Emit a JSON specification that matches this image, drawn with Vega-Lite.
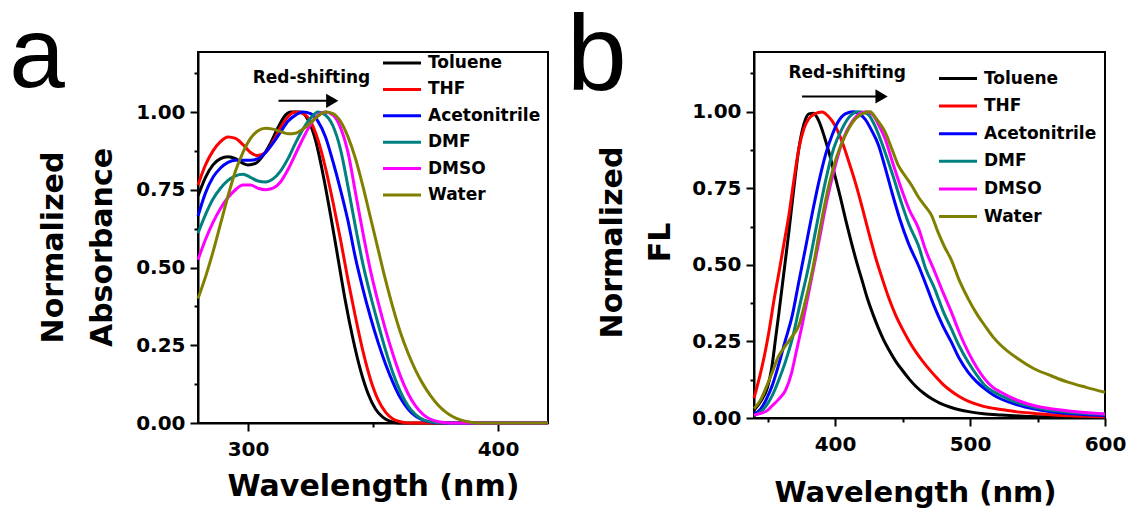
{
"$schema": "https://vega.github.io/schema/vega-lite/v6.json",
"background": "white",
"padding": {"left": 8, "top": 2, "right": 0, "bottom": 0},
"spacing": 10,
"config": {
 "font": "DejaVu Sans",
 "view": {"stroke": "black", "strokeWidth": 2},
 "axis": {"grid": false, "domainColor": "black", "domainWidth": 2, "tickColor": "black", "tickWidth": 2,
  "labelFont": "DejaVu Sans", "labelFontWeight": "bold", "labelFontSize": 20, "labelColor": "black", "labelFlush": false,
  "titleFont": "DejaVu Sans", "titleFontWeight": "bold", "titleFontSize": 30, "titleColor": "black"},
 "legend": {"orient": "none", "title": null, "symbolType": "M-2,0H2", "symbolSize": 361, "symbolStrokeWidth": 3,
  "labelFont": "DejaVu Sans", "labelFontWeight": "bold", "labelFontSize": 17, "labelColor": "black", "labelOffset": 15, "padding": 0}
},
"datasets": {
"abs": [
{"solvent":"Toluene","wl":280,"value":0.73},{"solvent":"Toluene","wl":283,"value":0.79},{"solvent":"Toluene","wl":286,"value":0.83},{"solvent":"Toluene","wl":289,"value":0.85},{"solvent":"Toluene","wl":292,"value":0.856},{"solvent":"Toluene","wl":295,"value":0.85},{"solvent":"Toluene","wl":298,"value":0.835},{"solvent":"Toluene","wl":300,"value":0.83},{"solvent":"Toluene","wl":303,"value":0.835},{"solvent":"Toluene","wl":306,"value":0.86},{"solvent":"Toluene","wl":309,"value":0.9},{"solvent":"Toluene","wl":312,"value":0.95},{"solvent":"Toluene","wl":315,"value":0.99},{"solvent":"Toluene","wl":317,"value":1.0},{"solvent":"Toluene","wl":321,"value":1.0},{"solvent":"Toluene","wl":324,"value":0.975},{"solvent":"Toluene","wl":327,"value":0.91},{"solvent":"Toluene","wl":330,"value":0.8},{"solvent":"Toluene","wl":333,"value":0.67},{"solvent":"Toluene","wl":336,"value":0.53},{"solvent":"Toluene","wl":339,"value":0.39},{"solvent":"Toluene","wl":342,"value":0.27},{"solvent":"Toluene","wl":345,"value":0.17},{"solvent":"Toluene","wl":348,"value":0.095},{"solvent":"Toluene","wl":351,"value":0.045},{"solvent":"Toluene","wl":354,"value":0.018},{"solvent":"Toluene","wl":357,"value":0.005},{"solvent":"Toluene","wl":360,"value":0},{"solvent":"Toluene","wl":420,"value":0},
{"solvent":"THF","wl":280,"value":0.765},{"solvent":"THF","wl":283,"value":0.83},{"solvent":"THF","wl":286,"value":0.875},{"solvent":"THF","wl":289,"value":0.905},{"solvent":"THF","wl":292,"value":0.92},{"solvent":"THF","wl":295,"value":0.915},{"solvent":"THF","wl":298,"value":0.895},{"solvent":"THF","wl":301,"value":0.87},{"solvent":"THF","wl":304,"value":0.86},{"solvent":"THF","wl":307,"value":0.87},{"solvent":"THF","wl":310,"value":0.905},{"solvent":"THF","wl":313,"value":0.95},{"solvent":"THF","wl":316,"value":0.985},{"solvent":"THF","wl":319,"value":1.0},{"solvent":"THF","wl":322,"value":0.995},{"solvent":"THF","wl":325,"value":0.97},{"solvent":"THF","wl":328,"value":0.91},{"solvent":"THF","wl":331,"value":0.82},{"solvent":"THF","wl":334,"value":0.71},{"solvent":"THF","wl":337,"value":0.59},{"solvent":"THF","wl":340,"value":0.46},{"solvent":"THF","wl":343,"value":0.34},{"solvent":"THF","wl":346,"value":0.23},{"solvent":"THF","wl":349,"value":0.14},{"solvent":"THF","wl":352,"value":0.075},{"solvent":"THF","wl":355,"value":0.035},{"solvent":"THF","wl":358,"value":0.013},{"solvent":"THF","wl":361,"value":0.004},{"solvent":"THF","wl":364,"value":0},{"solvent":"THF","wl":420,"value":0},
{"solvent":"Acetonitrile","wl":280,"value":0.665},{"solvent":"Acetonitrile","wl":283,"value":0.74},{"solvent":"Acetonitrile","wl":286,"value":0.79},{"solvent":"Acetonitrile","wl":289,"value":0.82},{"solvent":"Acetonitrile","wl":292,"value":0.838},{"solvent":"Acetonitrile","wl":295,"value":0.845},{"solvent":"Acetonitrile","wl":298,"value":0.845},{"solvent":"Acetonitrile","wl":301,"value":0.845},{"solvent":"Acetonitrile","wl":304,"value":0.85},{"solvent":"Acetonitrile","wl":307,"value":0.87},{"solvent":"Acetonitrile","wl":310,"value":0.9},{"solvent":"Acetonitrile","wl":313,"value":0.935},{"solvent":"Acetonitrile","wl":316,"value":0.97},{"solvent":"Acetonitrile","wl":319,"value":0.99},{"solvent":"Acetonitrile","wl":322,"value":1.0},{"solvent":"Acetonitrile","wl":325,"value":0.995},{"solvent":"Acetonitrile","wl":328,"value":0.97},{"solvent":"Acetonitrile","wl":331,"value":0.92},{"solvent":"Acetonitrile","wl":334,"value":0.84},{"solvent":"Acetonitrile","wl":337,"value":0.75},{"solvent":"Acetonitrile","wl":340,"value":0.65},{"solvent":"Acetonitrile","wl":343,"value":0.53},{"solvent":"Acetonitrile","wl":346,"value":0.43},{"solvent":"Acetonitrile","wl":349,"value":0.34},{"solvent":"Acetonitrile","wl":352,"value":0.26},{"solvent":"Acetonitrile","wl":355,"value":0.19},{"solvent":"Acetonitrile","wl":358,"value":0.13},{"solvent":"Acetonitrile","wl":361,"value":0.08},{"solvent":"Acetonitrile","wl":364,"value":0.045},{"solvent":"Acetonitrile","wl":367,"value":0.022},{"solvent":"Acetonitrile","wl":370,"value":0.009},{"solvent":"Acetonitrile","wl":374,"value":0.002},{"solvent":"Acetonitrile","wl":378,"value":0},{"solvent":"Acetonitrile","wl":420,"value":0},
{"solvent":"DMF","wl":280,"value":0.61},{"solvent":"DMF","wl":283,"value":0.67},{"solvent":"DMF","wl":286,"value":0.72},{"solvent":"DMF","wl":289,"value":0.755},{"solvent":"DMF","wl":292,"value":0.78},{"solvent":"DMF","wl":295,"value":0.795},{"solvent":"DMF","wl":298,"value":0.8},{"solvent":"DMF","wl":301,"value":0.79},{"solvent":"DMF","wl":304,"value":0.778},{"solvent":"DMF","wl":307,"value":0.775},{"solvent":"DMF","wl":310,"value":0.785},{"solvent":"DMF","wl":313,"value":0.81},{"solvent":"DMF","wl":316,"value":0.85},{"solvent":"DMF","wl":319,"value":0.9},{"solvent":"DMF","wl":322,"value":0.945},{"solvent":"DMF","wl":325,"value":0.98},{"solvent":"DMF","wl":328,"value":1.0},{"solvent":"DMF","wl":331,"value":0.99},{"solvent":"DMF","wl":334,"value":0.955},{"solvent":"DMF","wl":337,"value":0.88},{"solvent":"DMF","wl":340,"value":0.76},{"solvent":"DMF","wl":343,"value":0.63},{"solvent":"DMF","wl":346,"value":0.51},{"solvent":"DMF","wl":349,"value":0.41},{"solvent":"DMF","wl":352,"value":0.32},{"solvent":"DMF","wl":355,"value":0.235},{"solvent":"DMF","wl":358,"value":0.16},{"solvent":"DMF","wl":361,"value":0.1},{"solvent":"DMF","wl":364,"value":0.055},{"solvent":"DMF","wl":367,"value":0.027},{"solvent":"DMF","wl":370,"value":0.011},{"solvent":"DMF","wl":374,"value":0.003},{"solvent":"DMF","wl":378,"value":0},{"solvent":"DMF","wl":420,"value":0},
{"solvent":"DMSO","wl":280,"value":0.525},{"solvent":"DMSO","wl":283,"value":0.59},{"solvent":"DMSO","wl":286,"value":0.645},{"solvent":"DMSO","wl":289,"value":0.69},{"solvent":"DMSO","wl":292,"value":0.725},{"solvent":"DMSO","wl":295,"value":0.75},{"solvent":"DMSO","wl":298,"value":0.765},{"solvent":"DMSO","wl":301,"value":0.765},{"solvent":"DMSO","wl":304,"value":0.755},{"solvent":"DMSO","wl":307,"value":0.75},{"solvent":"DMSO","wl":310,"value":0.755},{"solvent":"DMSO","wl":313,"value":0.775},{"solvent":"DMSO","wl":316,"value":0.815},{"solvent":"DMSO","wl":319,"value":0.865},{"solvent":"DMSO","wl":322,"value":0.915},{"solvent":"DMSO","wl":325,"value":0.96},{"solvent":"DMSO","wl":328,"value":0.99},{"solvent":"DMSO","wl":331,"value":1.0},{"solvent":"DMSO","wl":334,"value":0.99},{"solvent":"DMSO","wl":337,"value":0.95},{"solvent":"DMSO","wl":340,"value":0.87},{"solvent":"DMSO","wl":343,"value":0.74},{"solvent":"DMSO","wl":346,"value":0.61},{"solvent":"DMSO","wl":349,"value":0.49},{"solvent":"DMSO","wl":352,"value":0.39},{"solvent":"DMSO","wl":355,"value":0.3},{"solvent":"DMSO","wl":358,"value":0.22},{"solvent":"DMSO","wl":361,"value":0.15},{"solvent":"DMSO","wl":364,"value":0.095},{"solvent":"DMSO","wl":367,"value":0.055},{"solvent":"DMSO","wl":370,"value":0.028},{"solvent":"DMSO","wl":373,"value":0.012},{"solvent":"DMSO","wl":377,"value":0.003},{"solvent":"DMSO","wl":381,"value":0},{"solvent":"DMSO","wl":420,"value":0},
{"solvent":"Water","wl":280,"value":0.4},{"solvent":"Water","wl":283,"value":0.47},{"solvent":"Water","wl":286,"value":0.55},{"solvent":"Water","wl":289,"value":0.64},{"solvent":"Water","wl":292,"value":0.73},{"solvent":"Water","wl":295,"value":0.81},{"solvent":"Water","wl":298,"value":0.87},{"solvent":"Water","wl":301,"value":0.915},{"solvent":"Water","wl":304,"value":0.94},{"solvent":"Water","wl":307,"value":0.948},{"solvent":"Water","wl":310,"value":0.945},{"solvent":"Water","wl":313,"value":0.937},{"solvent":"Water","wl":316,"value":0.93},{"solvent":"Water","wl":319,"value":0.932},{"solvent":"Water","wl":322,"value":0.945},{"solvent":"Water","wl":325,"value":0.965},{"solvent":"Water","wl":328,"value":0.987},{"solvent":"Water","wl":331,"value":1.0},{"solvent":"Water","wl":334,"value":0.995},{"solvent":"Water","wl":337,"value":0.97},{"solvent":"Water","wl":340,"value":0.92},{"solvent":"Water","wl":343,"value":0.85},{"solvent":"Water","wl":346,"value":0.76},{"solvent":"Water","wl":349,"value":0.66},{"solvent":"Water","wl":352,"value":0.56},{"solvent":"Water","wl":355,"value":0.46},{"solvent":"Water","wl":358,"value":0.37},{"solvent":"Water","wl":361,"value":0.29},{"solvent":"Water","wl":364,"value":0.225},{"solvent":"Water","wl":367,"value":0.17},{"solvent":"Water","wl":370,"value":0.125},{"solvent":"Water","wl":373,"value":0.088},{"solvent":"Water","wl":376,"value":0.058},{"solvent":"Water","wl":379,"value":0.036},{"solvent":"Water","wl":382,"value":0.02},{"solvent":"Water","wl":385,"value":0.01},{"solvent":"Water","wl":388,"value":0.004},{"solvent":"Water","wl":392,"value":0},{"solvent":"Water","wl":420,"value":0}
],
"fl": [
{"solvent":"Toluene","wl":340,"value":0.025},{"solvent":"Toluene","wl":345,"value":0.055},{"solvent":"Toluene","wl":350,"value":0.1},{"solvent":"Toluene","wl":353,"value":0.16},{"solvent":"Toluene","wl":356,"value":0.26},{"solvent":"Toluene","wl":358.5,"value":0.345},{"solvent":"Toluene","wl":362,"value":0.47},{"solvent":"Toluene","wl":365.8,"value":0.607},{"solvent":"Toluene","wl":369.5,"value":0.75},{"solvent":"Toluene","wl":373.2,"value":0.879},{"solvent":"Toluene","wl":377,"value":0.96},{"solvent":"Toluene","wl":380.6,"value":0.993},{"solvent":"Toluene","wl":384,"value":0.995},{"solvent":"Toluene","wl":388,"value":0.97},{"solvent":"Toluene","wl":392,"value":0.92},{"solvent":"Toluene","wl":396,"value":0.86},{"solvent":"Toluene","wl":400,"value":0.79},{"solvent":"Toluene","wl":404,"value":0.72},{"solvent":"Toluene","wl":408,"value":0.645},{"solvent":"Toluene","wl":412,"value":0.575},{"solvent":"Toluene","wl":416,"value":0.51},{"solvent":"Toluene","wl":420,"value":0.45},{"solvent":"Toluene","wl":424,"value":0.39},{"solvent":"Toluene","wl":428,"value":0.34},{"solvent":"Toluene","wl":432,"value":0.295},{"solvent":"Toluene","wl":436,"value":0.255},{"solvent":"Toluene","wl":440,"value":0.222},{"solvent":"Toluene","wl":445,"value":0.185},{"solvent":"Toluene","wl":450,"value":0.155},{"solvent":"Toluene","wl":455,"value":0.127},{"solvent":"Toluene","wl":460,"value":0.103},{"solvent":"Toluene","wl":466,"value":0.08},{"solvent":"Toluene","wl":472,"value":0.062},{"solvent":"Toluene","wl":478,"value":0.048},{"solvent":"Toluene","wl":485,"value":0.036},{"solvent":"Toluene","wl":492,"value":0.027},{"solvent":"Toluene","wl":500,"value":0.02},{"solvent":"Toluene","wl":510,"value":0.014},{"solvent":"Toluene","wl":523,"value":0.01},{"solvent":"Toluene","wl":540,"value":0.006},{"solvent":"Toluene","wl":560,"value":0.004},{"solvent":"Toluene","wl":580,"value":0.003},{"solvent":"Toluene","wl":600,"value":0.002},
{"solvent":"THF","wl":340,"value":0.065},{"solvent":"THF","wl":345,"value":0.15},{"solvent":"THF","wl":348,"value":0.21},{"solvent":"THF","wl":351,"value":0.28},{"solvent":"THF","wl":355,"value":0.39},{"solvent":"THF","wl":358.5,"value":0.476},{"solvent":"THF","wl":362,"value":0.565},{"solvent":"THF","wl":365.8,"value":0.661},{"solvent":"THF","wl":369.5,"value":0.775},{"solvent":"THF","wl":373.2,"value":0.879},{"solvent":"THF","wl":377,"value":0.945},{"solvent":"THF","wl":380.6,"value":0.977},{"solvent":"THF","wl":385,"value":0.993},{"solvent":"THF","wl":390.4,"value":0.999},{"solvent":"THF","wl":395,"value":0.985},{"solvent":"THF","wl":400,"value":0.955},{"solvent":"THF","wl":405,"value":0.905},{"solvent":"THF","wl":410,"value":0.84},{"solvent":"THF","wl":415,"value":0.77},{"solvent":"THF","wl":420,"value":0.69},{"solvent":"THF","wl":425,"value":0.605},{"solvent":"THF","wl":430,"value":0.525},{"solvent":"THF","wl":435,"value":0.455},{"solvent":"THF","wl":440,"value":0.39},{"solvent":"THF","wl":445,"value":0.335},{"solvent":"THF","wl":450,"value":0.29},{"solvent":"THF","wl":455,"value":0.25},{"solvent":"THF","wl":460,"value":0.215},{"solvent":"THF","wl":465,"value":0.185},{"solvent":"THF","wl":470,"value":0.158},{"solvent":"THF","wl":475,"value":0.133},{"solvent":"THF","wl":480,"value":0.11},{"solvent":"THF","wl":486,"value":0.088},{"solvent":"THF","wl":492,"value":0.07},{"solvent":"THF","wl":499,"value":0.054},{"solvent":"THF","wl":510,"value":0.038},{"solvent":"THF","wl":523,"value":0.028},{"solvent":"THF","wl":535,"value":0.02},{"solvent":"THF","wl":548,"value":0.015},{"solvent":"THF","wl":560,"value":0.011},{"solvent":"THF","wl":575,"value":0.007},{"solvent":"THF","wl":590,"value":0.005},{"solvent":"THF","wl":600,"value":0.004},
{"solvent":"Acetonitrile","wl":340,"value":0.013},{"solvent":"Acetonitrile","wl":345,"value":0.03},{"solvent":"Acetonitrile","wl":349,"value":0.06},{"solvent":"Acetonitrile","wl":353.5,"value":0.106},{"solvent":"Acetonitrile","wl":358,"value":0.17},{"solvent":"Acetonitrile","wl":363,"value":0.25},{"solvent":"Acetonitrile","wl":368.3,"value":0.334},{"solvent":"Acetonitrile","wl":373,"value":0.44},{"solvent":"Acetonitrile","wl":378,"value":0.552},{"solvent":"Acetonitrile","wl":383,"value":0.665},{"solvent":"Acetonitrile","wl":388,"value":0.77},{"solvent":"Acetonitrile","wl":393,"value":0.86},{"solvent":"Acetonitrile","wl":397.8,"value":0.923},{"solvent":"Acetonitrile","wl":402,"value":0.965},{"solvent":"Acetonitrile","wl":407.6,"value":0.993},{"solvent":"Acetonitrile","wl":413.8,"value":1.0},{"solvent":"Acetonitrile","wl":418,"value":0.993},{"solvent":"Acetonitrile","wl":422.4,"value":0.975},{"solvent":"Acetonitrile","wl":427,"value":0.94},{"solvent":"Acetonitrile","wl":432.3,"value":0.89},{"solvent":"Acetonitrile","wl":437,"value":0.82},{"solvent":"Acetonitrile","wl":442.1,"value":0.738},{"solvent":"Acetonitrile","wl":448,"value":0.65},{"solvent":"Acetonitrile","wl":454.4,"value":0.57},{"solvent":"Acetonitrile","wl":461.8,"value":0.498},{"solvent":"Acetonitrile","wl":467,"value":0.44},{"solvent":"Acetonitrile","wl":473,"value":0.37},{"solvent":"Acetonitrile","wl":480,"value":0.3},{"solvent":"Acetonitrile","wl":486.3,"value":0.247},{"solvent":"Acetonitrile","wl":492,"value":0.195},{"solvent":"Acetonitrile","wl":498.7,"value":0.149},{"solvent":"Acetonitrile","wl":505,"value":0.118},{"solvent":"Acetonitrile","wl":511,"value":0.095},{"solvent":"Acetonitrile","wl":517,"value":0.076},{"solvent":"Acetonitrile","wl":523,"value":0.062},{"solvent":"Acetonitrile","wl":535,"value":0.043},{"solvent":"Acetonitrile","wl":548,"value":0.029},{"solvent":"Acetonitrile","wl":560,"value":0.02},{"solvent":"Acetonitrile","wl":575,"value":0.014},{"solvent":"Acetonitrile","wl":590,"value":0.01},{"solvent":"Acetonitrile","wl":600,"value":0.008},
{"solvent":"DMF","wl":340,"value":0.008},{"solvent":"DMF","wl":345,"value":0.02},{"solvent":"DMF","wl":349,"value":0.04},{"solvent":"DMF","wl":353.5,"value":0.073},{"solvent":"DMF","wl":358,"value":0.12},{"solvent":"DMF","wl":363,"value":0.18},{"solvent":"DMF","wl":368.3,"value":0.258},{"solvent":"DMF","wl":374,"value":0.37},{"solvent":"DMF","wl":380.6,"value":0.498},{"solvent":"DMF","wl":386,"value":0.62},{"solvent":"DMF","wl":392.8,"value":0.77},{"solvent":"DMF","wl":399,"value":0.88},{"solvent":"DMF","wl":405.2,"value":0.944},{"solvent":"DMF","wl":411,"value":0.985},{"solvent":"DMF","wl":417.5,"value":1.0},{"solvent":"DMF","wl":421,"value":0.998},{"solvent":"DMF","wl":424.9,"value":0.99},{"solvent":"DMF","wl":430,"value":0.95},{"solvent":"DMF","wl":437.1,"value":0.868},{"solvent":"DMF","wl":443,"value":0.79},{"solvent":"DMF","wl":449.4,"value":0.7},{"solvent":"DMF","wl":455,"value":0.63},{"solvent":"DMF","wl":461.8,"value":0.563},{"solvent":"DMF","wl":467,"value":0.49},{"solvent":"DMF","wl":474,"value":0.42},{"solvent":"DMF","wl":480,"value":0.35},{"solvent":"DMF","wl":486.3,"value":0.29},{"solvent":"DMF","wl":492,"value":0.235},{"solvent":"DMF","wl":498.7,"value":0.182},{"solvent":"DMF","wl":505,"value":0.14},{"solvent":"DMF","wl":511,"value":0.106},{"solvent":"DMF","wl":517,"value":0.087},{"solvent":"DMF","wl":523,"value":0.073},{"solvent":"DMF","wl":535,"value":0.05},{"solvent":"DMF","wl":548,"value":0.035},{"solvent":"DMF","wl":560,"value":0.025},{"solvent":"DMF","wl":575,"value":0.018},{"solvent":"DMF","wl":590,"value":0.014},{"solvent":"DMF","wl":600,"value":0.012},
{"solvent":"DMSO","wl":340,"value":0.01},{"solvent":"DMSO","wl":345,"value":0.015},{"solvent":"DMSO","wl":350,"value":0.025},{"solvent":"DMSO","wl":353.5,"value":0.04},{"solvent":"DMSO","wl":358,"value":0.06},{"solvent":"DMSO","wl":363.3,"value":0.09},{"solvent":"DMSO","wl":368,"value":0.15},{"solvent":"DMSO","wl":371,"value":0.21},{"solvent":"DMSO","wl":375.6,"value":0.302},{"solvent":"DMSO","wl":381,"value":0.42},{"solvent":"DMSO","wl":388,"value":0.574},{"solvent":"DMSO","wl":394,"value":0.71},{"solvent":"DMSO","wl":400.2,"value":0.824},{"solvent":"DMSO","wl":406,"value":0.91},{"solvent":"DMSO","wl":412.5,"value":0.966},{"solvent":"DMSO","wl":418,"value":0.993},{"solvent":"DMSO","wl":423.6,"value":1.0},{"solvent":"DMSO","wl":428,"value":0.99},{"solvent":"DMSO","wl":432,"value":0.96},{"solvent":"DMSO","wl":437.1,"value":0.912},{"solvent":"DMSO","wl":443,"value":0.83},{"solvent":"DMSO","wl":449.4,"value":0.745},{"solvent":"DMSO","wl":455,"value":0.68},{"solvent":"DMSO","wl":461.8,"value":0.62},{"solvent":"DMSO","wl":467,"value":0.55},{"solvent":"DMSO","wl":474,"value":0.476},{"solvent":"DMSO","wl":480,"value":0.41},{"solvent":"DMSO","wl":486.3,"value":0.345},{"solvent":"DMSO","wl":492,"value":0.28},{"solvent":"DMSO","wl":498.7,"value":0.215},{"solvent":"DMSO","wl":505,"value":0.165},{"solvent":"DMSO","wl":511,"value":0.127},{"solvent":"DMSO","wl":517,"value":0.1},{"solvent":"DMSO","wl":523,"value":0.084},{"solvent":"DMSO","wl":535,"value":0.058},{"solvent":"DMSO","wl":548,"value":0.04},{"solvent":"DMSO","wl":560,"value":0.03},{"solvent":"DMSO","wl":575,"value":0.022},{"solvent":"DMSO","wl":590,"value":0.016},{"solvent":"DMSO","wl":600,"value":0.013},
{"solvent":"Water","wl":340,"value":0.03},{"solvent":"Water","wl":345,"value":0.06},{"solvent":"Water","wl":349,"value":0.1},{"solvent":"Water","wl":353.5,"value":0.149},{"solvent":"Water","wl":358,"value":0.2},{"solvent":"Water","wl":363.3,"value":0.236},{"solvent":"Water","wl":368,"value":0.265},{"solvent":"Water","wl":373.2,"value":0.302},{"solvent":"Water","wl":378,"value":0.38},{"solvent":"Water","wl":383,"value":0.476},{"solvent":"Water","wl":389,"value":0.62},{"solvent":"Water","wl":395.4,"value":0.759},{"solvent":"Water","wl":401,"value":0.85},{"solvent":"Water","wl":407.6,"value":0.923},{"solvent":"Water","wl":413,"value":0.965},{"solvent":"Water","wl":419.9,"value":0.993},{"solvent":"Water","wl":426,"value":1.0},{"solvent":"Water","wl":431,"value":0.975},{"solvent":"Water","wl":437.1,"value":0.934},{"solvent":"Water","wl":442,"value":0.88},{"solvent":"Water","wl":447,"value":0.824},{"solvent":"Water","wl":452,"value":0.79},{"solvent":"Water","wl":456.8,"value":0.759},{"solvent":"Water","wl":462,"value":0.72},{"solvent":"Water","wl":467,"value":0.69},{"solvent":"Water","wl":471.6,"value":0.661},{"solvent":"Water","wl":476,"value":0.61},{"solvent":"Water","wl":481,"value":0.56},{"solvent":"Water","wl":486.3,"value":0.515},{"solvent":"Water","wl":492,"value":0.45},{"solvent":"Water","wl":498.7,"value":0.389},{"solvent":"Water","wl":505,"value":0.34},{"solvent":"Water","wl":510.9,"value":0.302},{"solvent":"Water","wl":517,"value":0.265},{"solvent":"Water","wl":523.2,"value":0.236},{"solvent":"Water","wl":535,"value":0.195},{"solvent":"Water","wl":547.8,"value":0.16},{"solvent":"Water","wl":560,"value":0.138},{"solvent":"Water","wl":572.5,"value":0.117},{"solvent":"Water","wl":586,"value":0.1},{"solvent":"Water","wl":600,"value":0.084}
]
},
"resolve": {"scale": {"x": "independent", "y": "independent", "color": "independent"}, "legend": {"color": "independent"}},
"hconcat": [
{
 "width": 350, "height": 371,
 "layer": [
  {"data": {"name": "abs"},
   "mark": {"type": "line", "strokeWidth": 3, "interpolate": "monotone"},
   "encoding": {
    "x": {"field": "wl", "type": "quantitative", "scale": {"domain": [280, 420], "nice": false, "zero": false},
     "axis": {"title": "Wavelength (nm)", "values": [300, 350, 400], "labelExpr": "datum.value == 350 ? '' : datum.label",
      "tickSize": {"condition": {"test": "datum.value == 350", "value": 4}, "value": 8}, "labelPadding": 8, "titlePadding": 12}},
    "y": {"field": "value", "type": "quantitative", "scale": {"domain": [0, 1.193], "nice": false},
     "axis": {"title": ["Normalized", "Absorbance"], "values": [0, 0.125, 0.25, 0.375, 0.5, 0.625, 0.75, 0.875, 1, 1.125], "format": ".2f",
      "labelExpr": "(datum.value * 8) % 2 == 1 ? '' : datum.label",
      "tickSize": {"condition": {"test": "(datum.value * 8) % 2 == 1", "value": 4}, "value": 8},
      "labelPadding": 5, "titlePadding": 18, "titleLineHeight": 49, "titleY": 195}},
    "color": {"field": "solvent", "type": "nominal",
     "scale": {"domain": ["Toluene", "THF", "Acetonitrile", "DMF", "DMSO", "Water"], "range": ["#000000", "#ff0000", "#0000ff", "#008080", "#ff00ff", "#808000"]},
     "legend": {"legendX": 193, "legendY": 0, "rowPadding": 7.4}}
   }},
  {"data": {"values": [{}]}, "mark": {"type": "text", "font": "DejaVu Sans", "fontWeight": "bold", "fontSize": 17, "color": "black"},
   "encoding": {"x": {"datum": 325.4}, "y": {"datum": 1.11}, "text": {"value": "Red-shifting"}}},
  {"data": {"values": [{}]}, "mark": {"type": "rule", "strokeWidth": 2, "color": "black"},
   "encoding": {"x": {"datum": 312.2}, "x2": {"datum": 332}, "y": {"datum": 1.036}}},
  {"data": {"values": [{}]}, "mark": {"type": "point", "shape": "triangle-right", "filled": true, "size": 200, "color": "black", "opacity": 1},
   "encoding": {"x": {"datum": 333.7}, "y": {"datum": 1.036}}},
  {"data": {"values": [{}]}, "mark": {"type": "text", "font": "Liberation Sans", "fontSize": 100, "align": "center", "baseline": "alphabetic", "color": "black"},
   "encoding": {"x": {"datum": 215.6}, "y": {"datum": 1.08}, "text": {"value": "a"}}}
 ]
},
{
 "width": 351, "height": 366,
 "layer": [
  {"data": {"name": "fl"},
   "mark": {"type": "line", "strokeWidth": 3, "interpolate": "monotone"},
   "encoding": {
    "x": {"field": "wl", "type": "quantitative", "scale": {"domain": [340, 600], "nice": false, "zero": false},
     "axis": {"title": "Wavelength (nm)", "titleFontSize": 29, "titleX": 161, "values": [350, 400, 450, 500, 550, 600], "labelExpr": "datum.value % 100 == 50 ? '' : datum.label",
      "tickSize": {"condition": {"test": "datum.value % 100 == 50", "value": 4}, "value": 8}, "labelPadding": 8, "titlePadding": 24}},
    "y": {"field": "value", "type": "quantitative", "scale": {"domain": [0, 1.195], "nice": false},
     "axis": {"title": ["Normalized", "FL"], "values": [0, 0.125, 0.25, 0.375, 0.5, 0.625, 0.75, 0.875, 1, 1.125], "format": ".2f",
      "labelExpr": "(datum.value * 8) % 2 == 1 ? '' : datum.label",
      "tickSize": {"condition": {"test": "(datum.value * 8) % 2 == 1", "value": 4}, "value": 8},
      "labelPadding": 5, "titlePadding": 16, "titleLineHeight": 48, "titleY": 190}},
    "color": {"field": "solvent", "type": "nominal",
     "scale": {"domain": ["Toluene", "THF", "Acetonitrile", "DMF", "DMSO", "Water"], "range": ["#000000", "#ff0000", "#0000ff", "#008080", "#ff00ff", "#808000"]},
     "legend": {"legendX": 193, "legendY": 15.5, "rowPadding": 8.6}}
   }},
  {"data": {"values": [{}]}, "mark": {"type": "text", "font": "DejaVu Sans", "fontWeight": "bold", "fontSize": 17, "color": "black"},
   "encoding": {"x": {"datum": 409}, "y": {"datum": 1.127}, "text": {"value": "Red-shifting"}}},
  {"data": {"values": [{}]}, "mark": {"type": "rule", "strokeWidth": 2, "color": "black"},
   "encoding": {"x": {"datum": 375.6}, "x2": {"datum": 432}, "y": {"datum": 1.05}}},
  {"data": {"values": [{}]}, "mark": {"type": "point", "shape": "triangle-right", "filled": true, "size": 200, "color": "black", "opacity": 1},
   "encoding": {"x": {"datum": 434.5}, "y": {"datum": 1.05}}},
  {"data": {"values": [{}]}, "mark": {"type": "text", "font": "Liberation Sans", "fontSize": 108, "align": "center", "baseline": "alphabetic", "color": "black"},
   "encoding": {"x": {"datum": 223.6}, "y": {"datum": 1.072}, "text": {"value": "b"}}}
 ]
}
]
}
